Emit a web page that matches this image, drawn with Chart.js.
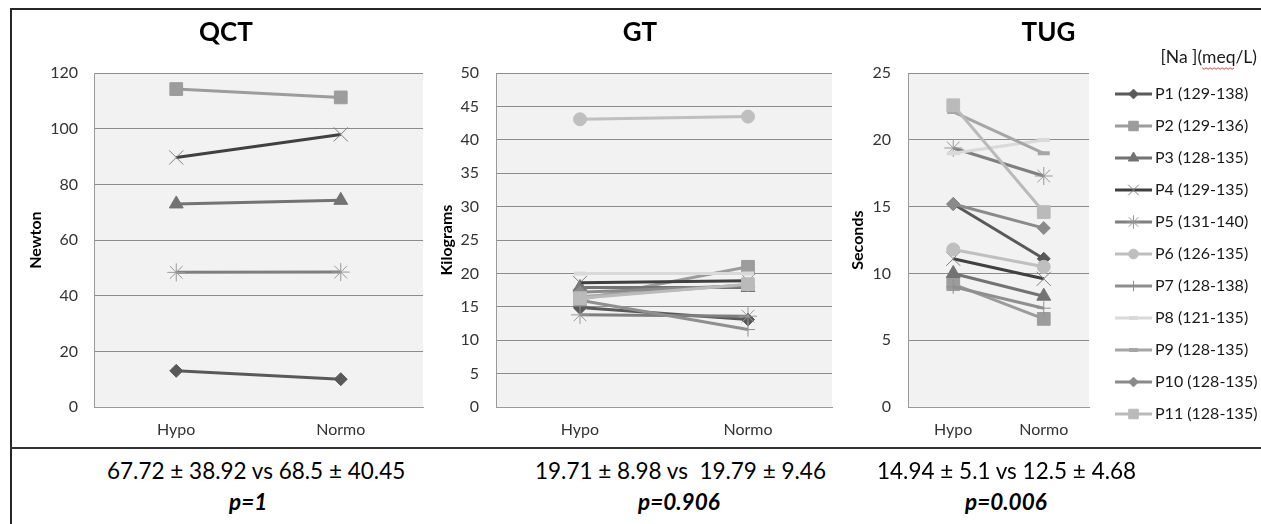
<!DOCTYPE html>
<html>
<head>
<meta charset="utf-8">
<script src="https://cdn.jsdelivr.net/npm/chart.js@4.4.0/dist/chart.umd.min.js"></script>
<style>
  html, body { margin: 0; padding: 0; background: #fff; }
  body { width: 1261px; height: 524px; position: relative; overflow: hidden; font-family: Lato, sans-serif; }
  .frame { position: absolute; left: 10px; top: 8px; width: 1251px; height: 516px; border-top: 2px solid #262626; border-left: 2px solid #262626; }
  .divider { position: absolute; left: 10px; top: 447px; width: 1251px; height: 2px; background: #333; }
  .box { position: absolute; top: 10px; height: 437px; }
  .stat { position: absolute; font-size: 22.5px; line-height: 27px; color: #000; white-space: pre; }
  .pval { font-weight: bold; font-style: italic; }
</style>
</head>
<body>
<div class="frame"></div>
<div class="box" style="left:19px;width:415px"><canvas id="qctChart"></canvas></div>
<div class="box" style="left:437px;width:406px"><canvas id="gtChart"></canvas></div>
<div class="box" style="left:840px;width:421px"><canvas id="tugChart"></canvas></div>
<div class="divider"></div>

<div class="stat" style="left:107px;top:457px">67.72 ± 38.92 vs 68.5 ± 40.45</div>
<div class="stat pval" style="left:229px;top:488px">p=1</div>
<div class="stat" style="left:535px;top:457px">19.71 ± 8.98 vs  19.79 ± 9.46</div>
<div class="stat pval" style="left:638px;top:488px">p=0.906</div>
<div class="stat" style="left:877px;top:457px">14.94 ± 5.1 vs 12.5 ± 4.68</div>
<div class="stat pval" style="left:965px;top:488px">p=0.006</div>

<script>
// categories and patients
var categories = ['Hypo', 'Normo'];
var patients = ['P1 (129-138)', 'P2 (129-136)', 'P3 (128-135)', 'P4 (129-135)', 'P5 (131-140)',
                'P6 (126-135)', 'P7 (128-138)', 'P8 (121-135)', 'P9 (128-135)', 'P10 (128-135)', 'P11 (128-135)'];

// QCT (Newton) - only P1..P5
var qctHypo  = [13.0, 114.3, 73.0, 89.7, 48.4, null, null, null, null, null, null];
var qctNormo = [10.0, 111.3, 74.3, 98.0, 48.5, null, null, null, null, null, null];

// GT (Kilograms)
var gtHypo  = [14.9, 16.1, 17.9, 18.6, 13.8, 43.1, 16.0, 20.0, 16.5, 17.2, 16.3];
var gtNormo = [13.1, 21.0, 17.9, 18.9, 13.6, 43.5, 11.6, 20.0, 18.3, 18.2, 18.4];

// TUG (Seconds)
var tugHypo  = [15.2, 9.2, 10.0, 11.1, 19.4, 11.8, 9.0, 19.0, 22.1, 15.2, 22.6];
var tugNormo = [11.1, 6.6, 8.3, 9.6, 17.3, 10.5, 7.4, 20.0, 19.0, 13.4, 14.6];

// series look (Excel grey scale)
var lineColors   = ['#595959', '#9c9c9c', '#737373', '#404040', '#7f7f7f', '#bfbfbf', '#8f8f8f', '#d9d9d9', '#a6a6a6', '#8a8a8a', '#bababa'];
var markerColors = ['#595959', '#9c9c9c', '#737373', '#808080', '#999999', '#bfbfbf', '#8f8f8f', '#d9d9d9', '#a6a6a6', '#8a8a8a', '#bababa'];
var markers      = ['rectRot', 'rect', 'triangle', 'crossRot', 'star', 'circle', 'cross', 'line', 'line', 'rectRot', 'rect'];
var markerSize   = { rectRot: 6.5, rect: 9, triangle: 8, crossRot: 10, star: 9, circle: 6.5, cross: 7, line: 6 };
var markerBorder = { rectRot: 1, rect: 1, triangle: 1, crossRot: 1, star: 1, circle: 1, cross: 1, line: 4 };

Chart.defaults.font.family = 'Lato';
Chart.defaults.color = '#333';

function buildDatasets(hypo, normo) {
  return patients.map(function (name, i) {
    return {
      label: name,
      data: [hypo[i], normo[i]],
      borderColor: lineColors[i],
      backgroundColor: lineColors[i],
      borderWidth: 3,
      pointStyle: markers[i],
      pointRadius: markerSize[markers[i]],
      pointBackgroundColor: markerColors[i],
      pointBorderColor: markerColors[i],
      pointBorderWidth: markerBorder[markers[i]],
      tension: 0,
      order: patients.length - i   // later series on top, like Excel
    };
  });
}

// grey plot area
var plotBg = {
  id: 'plotBg',
  beforeDraw: function (chart) {
    var a = chart.chartArea, ctx = chart.ctx;
    ctx.save();
    ctx.fillStyle = '#f2f2f2';
    ctx.fillRect(a.left, a.top, a.right - a.left, a.bottom - a.top);
    ctx.restore();
  }
};

// line + marker samples in the legend, and the spell-check squiggle
var legendMarks = {
  id: 'legendMarks',
  afterDraw: function (chart) {
    var lg = chart.legend;
    if (!lg || !lg.options.display) return;
    var ctx = chart.ctx;
    lg.legendItems.forEach(function (item, i) {
      var hb = lg.legendHitBoxes[i];
      var ds = chart.data.datasets[item.datasetIndex];
      var y = hb.top + hb.height / 2;
      ctx.save();
      ctx.strokeStyle = ds.borderColor;
      ctx.lineWidth = 3;
      ctx.beginPath();
      ctx.moveTo(hb.left, y);
      ctx.lineTo(hb.left + 37, y);
      ctx.stroke();
      ctx.fillStyle = ds.pointBackgroundColor;
      ctx.strokeStyle = ds.pointBorderColor;
      ctx.lineWidth = ds.pointBorderWidth;
      Chart.helpers.drawPoint(ctx, {
        pointStyle: ds.pointStyle, rotation: 0,
        radius: ds.pointRadius * 0.75, borderWidth: ds.pointBorderWidth
      }, hb.left + 18.5, y);
      ctx.restore();
    });
    // red wavy underline under "meq"
    var t = lg.options.title;
    ctx.save();
    ctx.font = t.font.size + 'px Lato';
    var full = ctx.measureText(t.text).width;
    var pre = ctx.measureText('[Na ](').width;
    var meq = ctx.measureText('meq').width;
    var x0 = lg.right - full + pre, yy = lg.top + t.padding.top + t.font.size / 2 + 10;
    ctx.strokeStyle = '#e04040';
    ctx.lineWidth = 1;
    ctx.beginPath();
    for (var x = 0; x <= meq; x += 2) {
      var yv = yy + ((x / 2) % 2 === 0 ? 0 : 1.5);
      if (x === 0) ctx.moveTo(x0 + x, yv); else ctx.lineTo(x0 + x, yv);
    }
    ctx.stroke();
    ctx.restore();
  }
};

function makeOptions(c) {
  var opts = {
    responsive: true,
    maintainAspectRatio: false,
    animation: false,
    layout: { padding: { left: 0, right: c.padRight, top: 0, bottom: 0 } },
    plugins: {
      title: {
        display: true, text: c.title, color: '#000',
        font: { size: 26, weight: 'bold' },
        padding: { top: 7, bottom: 25 }
      },
      legend: { display: false },
      tooltip: { enabled: false }
    },
    scales: {
      x: {
        offset: true,
        grid: { display: false, drawTicks: false },
        border: { display: true, color: '#9a9a9a', width: 1 },
        ticks: { font: { size: 16 }, color: '#333', padding: 13 },
        afterFit: function (s) { s.height = 40; }
      },
      y: {
        min: 0, max: c.max,
        ticks: { stepSize: c.step, font: { size: 16 }, color: '#333', padding: c.tickPad },
        grid: { color: '#8c8c8c', lineWidth: 1, drawTicks: false },
        border: { display: true, color: '#9a9a9a', width: 1 },
        title: {
          display: true, text: c.yTitle, color: '#000',
          font: { size: 16, weight: 'bold' },
          padding: { top: c.yTitlePad, bottom: 0 }
        },
        afterFit: function (s) { s.width = c.axisWidth; }
      }
    }
  };
  return opts;
}

// QCT
new Chart(document.getElementById('qctChart').getContext('2d'), {
  type: 'line',
  data: { labels: categories, datasets: buildDatasets(qctHypo, qctNormo) },
  options: makeOptions({ title: 'QCT', yTitle: 'Newton', max: 120, step: 20, axisWidth: 75, tickPad: 16, yTitlePad: 7, padRight: 1 }),
  plugins: [plotBg]
});

// GT
new Chart(document.getElementById('gtChart').getContext('2d'), {
  type: 'line',
  data: { labels: categories, datasets: buildDatasets(gtHypo, gtNormo) },
  options: makeOptions({ title: 'GT', yTitle: 'Kilograms', max: 50, step: 5, axisWidth: 59, tickPad: 17, yTitlePad: 0, padRight: 0 }),
  plugins: [plotBg]
});

// TUG, with the legend on the right
var tugOptions = makeOptions({ title: 'TUG', yTitle: 'Seconds', max: 25, step: 5, axisWidth: 68, tickPad: 17, yTitlePad: 8, padRight: 4 });
tugOptions.scales.y2 = {
  position: 'right',
  grid: { display: false, drawTicks: false },
  border: { display: false },
  ticks: { display: false },
  afterFit: function (s) { s.width = 10; }
};
tugOptions.plugins.legend = {
  display: true,
  position: 'right',
  align: 'start',
  maxWidth: 158,
  title: {
    display: true, text: '[Na ](meq/L)', position: 'end', color: '#1a1a1a',
    font: { size: 17.5 }, padding: { top: 39, bottom: 0 }
  },
  labels: {
    font: { size: 16 },
    color: '#1a1a1a',
    boxWidth: 32,
    padding: 16,
    sort: function (a, b) { return a.datasetIndex - b.datasetIndex; },
    generateLabels: function (chart) {
      var items = Chart.defaults.plugins.legend.labels.generateLabels(chart);
      items.forEach(function (it) {
        it.fillStyle = 'rgba(0,0,0,0)';
        it.strokeStyle = 'rgba(0,0,0,0)';
        it.lineWidth = 0;
      });
      return items;
    }
  }
};
new Chart(document.getElementById('tugChart').getContext('2d'), {
  type: 'line',
  data: { labels: categories, datasets: buildDatasets(tugHypo, tugNormo) },
  options: tugOptions,
  plugins: [plotBg, legendMarks]
});
</script>
</body>
</html>
